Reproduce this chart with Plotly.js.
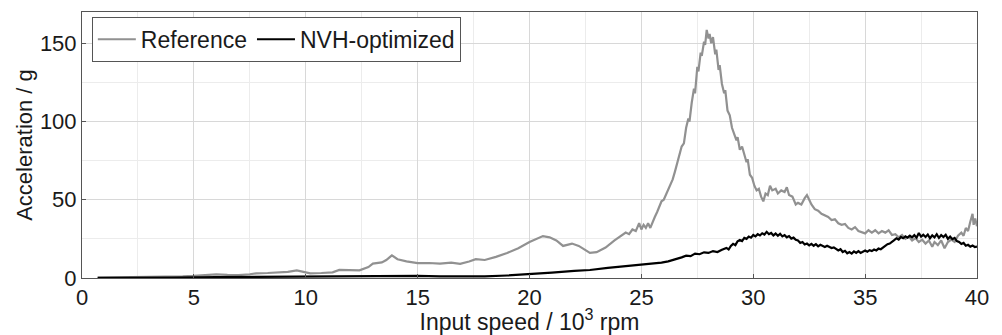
<!DOCTYPE html>
<html>
<head>
<meta charset="utf-8">
<script src="https://cdn.plot.ly/plotly-3.0.1.min.js"></script>
<style>html,body{margin:0;padding:0;background:#fff;}#chart{width:1002px;height:335px;}</style>
</head>
<body>
<div id="chart"></div>
<script>
// Input speed (10^3 rpm) and acceleration (g)
var refSpeed = [0.7,1.5,2.5,3.0,3.5,4.0,4.5,5.0,5.5,6.0,6.5,7.0,7.5,7.8,8.3,8.8,9.2,9.6,9.9,10.2,10.7,11.2,11.5,12.0,12.4,12.8,13.0,13.4,13.6,13.85,14.1,14.5,15.0,15.5,16.0,16.5,16.9,17.3,17.6,18.0,18.5,19.0,19.5,20.0,20.3,20.6,20.9,21.2,21.5,21.9,22.2,22.7,23.0,23.4,23.8,
  24.0,24.15,24.3,24.45,24.6,24.75,24.9,25.0,25.1,25.2,25.3,25.4,25.5,25.6,25.7,25.8,25.9,26.0,26.1,26.2,26.3,26.4,26.5,26.6,26.7,26.8,26.9,27.0,27.1,27.15,27.25,27.35,27.4,27.5,27.55,27.65,27.7,27.8,27.85,27.92,28.0,28.05,28.12,28.2,28.3,28.35,28.45,28.5,28.6,28.7,28.75,28.85,28.95,29.05,29.15,29.25,29.3,29.4,29.5,29.6,29.7,29.75,29.85,29.95,
  30.05,30.15,30.25,30.35,30.45,30.55,30.65,30.75,30.85,31.0,31.1,31.25,31.4,31.5,31.6,31.75,31.9,32.0,32.15,32.3,32.4,32.5,32.6,32.75,32.9,33.05,33.2,33.35,33.5,33.65,33.8,33.95,34.1,34.25,34.4,34.55,34.7,34.85,
  35.0,35.15,35.3,35.45,35.6,35.75,35.9,36.05,36.2,36.35,36.5,36.65,36.8,36.95,37.1,37.25,37.4,37.55,37.7,37.85,38.0,38.1,38.25,38.4,38.55,38.7,38.85,39.0,39.15,39.3,39.4,39.5,39.6,39.7,39.8,39.85,39.92,40.0];
var refAccel = [0.2,0.3,0.5,0.9,0.8,0.9,1.0,1.3,1.8,2.3,2.0,1.9,2.4,3.0,3.2,3.4,3.9,4.8,3.8,3.0,3.2,3.6,5.2,5.0,4.9,7.0,9.2,10.0,11.5,14.5,12.0,10.6,9.5,9.6,9.2,9.8,9.0,10.5,12.0,11.5,13.5,16.0,19.0,23.0,25.0,26.8,26.0,24.0,20.5,22.0,20.5,16.0,16.5,19.5,24.0,
  26,27,29,28,31,30,35,31,34,32,35,32,36,39,42,45,49,50,53,56,60,63,68,73,79,84,86,96,102,100,112,121,118,135,132,144,142,151,149,158.5,153,156,150,154,143,146,133,136,124,118,120,107,104,96,92,88,90,82,84,78,74,76,66,64,
  59,56,57,52,49,54,53,59,56,57,54,56,55,58,53,52,47,48,47,51,53,50,47,44,43,41,40,39,37,37.5,35,34,34.5,32,31,32.5,30,29,
  28.5,30.5,29,30.5,28.5,30,29,30.5,27.5,28,26,27.5,25,26.5,24,25.5,23,24.5,22,24,20,23,21,24,19,23,24.5,23,27,29,27,32,30,36,41,34,38,33];
var nvhSpeed = [0.7,2.0,4.0,6.0,8.0,10.0,12.0,14.0,15.0,16.0,17.0,18.0,19.0,20.0,21.0,22.0,22.7,23.5,24.3,
  25.0,25.3,25.6,25.9,26.2,26.5,26.8,27.0,27.2,27.4,27.6,27.8,28.0,28.2,28.4,28.6,28.8,28.9,29.0,29.1,29.2,29.3,29.4,29.5,29.6,29.7,29.8,29.9,
  30.0,30.1,30.2,30.3,30.4,30.5,30.6,30.7,30.8,30.9,31.0,31.1,31.2,31.3,31.4,31.5,31.6,31.7,31.8,31.9,32.0,32.1,32.2,32.3,32.4,32.5,32.6,32.7,32.8,32.9,33.0,33.2,33.3,33.5,33.6,33.8,33.9,34.0,34.1,34.2,34.3,34.4,34.5,34.6,34.7,34.8,34.9,
  35.0,35.1,35.2,35.3,35.4,35.5,35.6,35.7,35.8,35.9,36.0,36.1,36.2,36.3,36.4,36.5,36.6,36.7,36.8,36.9,37.0,37.1,37.2,37.3,37.4,37.5,37.6,37.7,37.8,37.9,38.0,38.1,38.2,38.3,38.4,38.5,38.6,38.7,38.8,38.9,39.0,39.1,39.2,39.3,39.4,39.5,39.6,39.7,39.8,39.9,40.0];
var nvhAccel = [0.1,0.1,0.3,0.6,0.8,0.9,1.2,1.6,1.4,1.0,1.1,1.0,1.6,2.4,3.4,4.5,5.1,6.5,7.5,
  8.2,8.6,9.2,9.8,10.6,11.8,13.2,14.3,14.0,15.6,15.2,16.4,16.0,17.2,16.6,18.0,19.2,18.2,20.5,21.8,21.0,23.5,24.3,23.6,25.6,25.0,26.5,25.8,
  27.5,26.6,28.0,27.2,28.6,27.8,29.5,28.0,28.8,27.2,28.4,27.0,28.2,26.6,27.4,26.0,26.8,25.2,25.8,24.4,24.0,22.4,23.0,21.4,22.0,20.8,21.8,20.6,21.6,20.2,21.2,19.8,20.6,19.2,19.6,17.6,18.4,16.6,17.4,15.8,16.6,15.6,17.0,16.0,17.2,16.0,16.8,
  17.6,16.8,17.8,17.2,18.2,17.6,18.8,18.4,19.6,20.4,21.6,22.0,23.4,24.2,25.4,24.6,26.2,25.4,26.6,25.8,27.0,26.0,27.4,25.8,28.8,26.4,27.6,26.2,27.8,25.4,27.2,26.0,28.0,25.6,27.4,26.2,27.6,25.0,26.4,24.8,25.6,23.6,23.0,21.8,22.4,20.6,21.2,20.0,20.8,19.8,20.0];
var seriesNames = ['Reference', 'NVH-optimized'];
var xTicks = [0,5,10,15,20,25,30,35,40];
var yTicks = [0,50,100,150];

var font = 'Liberation Sans, Arial, sans-serif';
var data = [
  {x: refSpeed, y: refAccel, name: seriesNames[0], type: 'scatter', mode: 'lines',
   line: {color: '#919191', width: 2.2}},
  {x: nvhSpeed, y: nvhAccel, name: seriesNames[1], type: 'scatter', mode: 'lines',
   line: {color: '#000000', width: 2.2}}
];
var layout = {
  width: 1002, height: 335,
  margin: {l: 82, r: 25, t: 12, b: 57},
  paper_bgcolor: '#fff', plot_bgcolor: '#fff',
  font: {family: font, size: 22, color: '#1a1a1a'},
  showlegend: true,
  legend: {orientation: 'h', x: 0.011, y: 0.982, xanchor: 'left', yanchor: 'top',
           bgcolor: '#fff', bordercolor: '#555', borderwidth: 1,
           font: {family: font, size: 23, color: '#1a1a1a'}, itemwidth: 38,
           tracegroupgap: 0},
  xaxis: {range: [0, 40], tickvals: xTicks, ticktext: xTicks.map(String),
          showgrid: true, gridcolor: '#d8d8d8', gridwidth: 1,
          minor: {dtick: 2.5, showgrid: true, gridcolor: '#ececec', gridwidth: 1},
          showline: true, linecolor: '#555', linewidth: 1, mirror: true,
          ticks: 'inside', ticklen: 4, tickcolor: '#555', zeroline: false,
          tickfont: {size: 22},
          title: {text: 'Input speed / 10<sup>3</sup> rpm', font: {size: 23}, standoff: 4}},
  yaxis: {range: [0, 170], tickvals: yTicks, ticktext: yTicks.map(String),
          showgrid: true, gridcolor: '#d8d8d8', gridwidth: 1,
          minor: {dtick: 25, showgrid: true, gridcolor: '#ececec', gridwidth: 1},
          showline: true, linecolor: '#555', linewidth: 1, mirror: true,
          ticks: 'inside', ticklen: 4, tickcolor: '#555', zeroline: false,
          tickfont: {size: 22},
          title: {text: 'Acceleration / g', font: {size: 22}, standoff: 1}}
};
Plotly.newPlot('chart', data, layout, {staticPlot: true, displayModeBar: false});
</script>
</body>
</html>
